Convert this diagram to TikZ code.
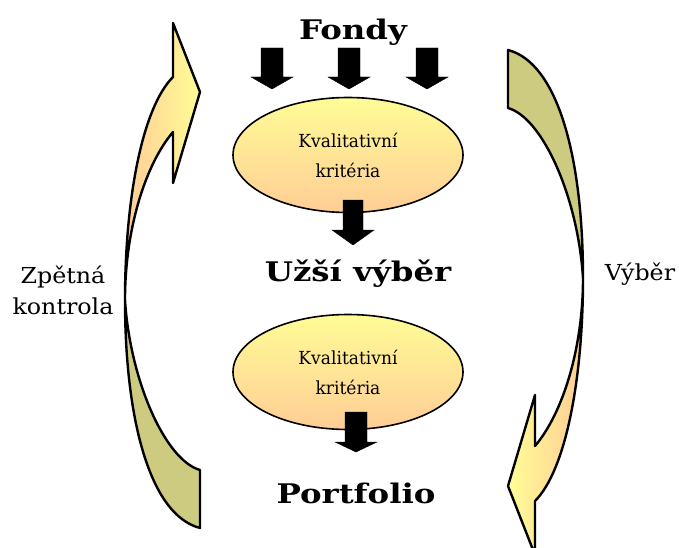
\documentclass[tikz,border=0pt]{standalone}
\usepackage{fontspec}
\setmainfont{DejaVu Serif}
\newfontfamily\titlefont[FakeStretch=1.2]{DejaVu Serif}
\newfontfamily\critfont[FakeStretch=0.95]{DejaVu Serif}
\newfontfamily\sidefont[FakeStretch=1.08]{DejaVu Serif}
\usetikzlibrary{shapes.geometric}
\definecolor{pyellow}{RGB}{255,252,150}
\definecolor{porange}{RGB}{255,205,150}
\definecolor{polive}{RGB}{205,203,128}
\tikzset{
  front/.style={draw=black, line width=2.4pt, line join=round},
  backpart/.style={draw=black, line width=2.4pt, line join=round, fill=polive},
  blockarrow/.style={fill=black, draw=black, line width=0.4pt, line join=miter},
  critbox/.style={ellipse, draw=black, line width=1.6pt, top color=pyellow, bottom color=porange,
    minimum width=230pt, minimum height=115pt, inner sep=0pt, align=center,
    font=\critfont\fontsize{18}{30}\selectfont},
  title/.style={font=\titlefont\fontsize{27}{30}\bfseries\selectfont},
  side/.style={font=\sidefont\fontsize{22}{31}\selectfont, align=center}
}
\newcommand{\downblock}[6]{% cx, top, shaft half, head half, head start, tip
  \fill[blockarrow] (#1-#3,#2) -- (#1+#3,#2) -- (#1+#3,#5) -- (#1+#4,#5) -- (#1,#6) -- (#1-#4,#5) -- (#1-#3,#5) -- cycle;}
\begin{document}
\begin{tikzpicture}[x=1pt,y=-1pt]
\useasboundingbox (0,0) rectangle (679,548);
% left curved arrow (Zpetna kontrola)
\path[backpart] (125,300) .. controls (125,420) and (150,515) .. (200,528) -- (200,470) .. controls (165,460) and (130,380) .. (125,300) -- cycle;
\path[front, left color=porange, right color=pyellow] (173,23) -- (200,92) -- (173,183) -- (173,132) .. controls (145,165) and (125,230) .. (125,300) .. controls (125,200) and (142,108) .. (173,77) -- cycle;
% right curved arrow (Vyber)
\path[backpart] (583,278) .. controls (583,158) and (558,63) .. (508,50) -- (508,108) .. controls (543,118) and (578,198) .. (583,278) -- cycle;
\path[front, left color=pyellow, right color=porange] (535,555) -- (508,486) -- (535,395) -- (535,446) .. controls (563,413) and (583,348) .. (583,278) .. controls (583,378) and (566,470) .. (535,501) -- cycle;
% texts
\node[title] (fondy) at (353,32) {Fondy};
\node[critbox] (k1) at (348,155) {Kvalitativní\\kritéria};
\node[title] (uzsi) at (358,274) {Užší výběr};
\node[critbox] (k2) at (348,372) {Kvalitativní\\kritéria};
\node[title] (portfolio) at (356,493) {Portfolio};
\node[side] (zpet) at (63,290) {Zpětná\\kontrola};
\node[side] (vyber) at (640,274) {Výběr};
% block arrows
\downblock{272}{48}{11}{21}{77}{89}
\downblock{349}{48}{11}{21}{77}{89}
\downblock{427}{48}{11}{21}{77}{89}
\downblock{353}{200}{10}{21}{230}{245}
\downblock{356}{412}{11}{21}{442}{452}
\end{tikzpicture}
\end{document}
